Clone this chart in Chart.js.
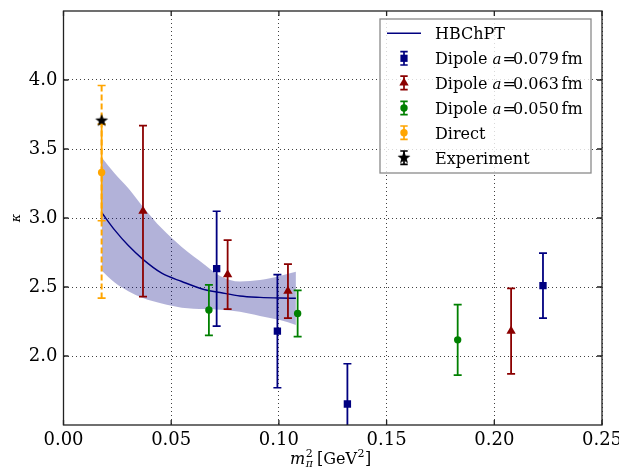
<!DOCTYPE html>
<html>
<head>
<meta charset="utf-8">
<script src="https://cdn.jsdelivr.net/npm/chart.js@4.4.1/dist/chart.umd.min.js"></script>
<style>
html, body { margin: 0; padding: 0; background: #fff; }
#wrap { width: 619px; height: 476px; }
</style>
</head>
<body>
<div id="wrap"><canvas id="kappaChart" width="619" height="476"></canvas></div>
<script>
/* Values */
const xTicks = [0.00, 0.05, 0.10, 0.15, 0.20, 0.25];
const yTicks = [2.0, 2.5, 3.0, 3.5, 4.0];

// HBChPT curve and its band
const fitX  = [0.0177, 0.0239, 0.0301, 0.0369, 0.0456, 0.0549, 0.0657, 0.0727, 0.0819, 0.0912, 0.1005, 0.1079];
const fitY  = [3.04, 2.91, 2.80, 2.70, 2.60, 2.54, 2.48, 2.46, 2.435, 2.425, 2.42, 2.418];
const fitHi = [3.44, 3.32, 3.215, 3.08, 2.925, 2.79, 2.66, 2.58, 2.54, 2.55, 2.58, 2.61];
const fitLo = [2.62, 2.53, 2.47, 2.42, 2.38, 2.35, 2.34, 2.335, 2.32, 2.29, 2.26, 2.225];

// Dipole a = 0.079 fm
const dip079X = [0.0711, 0.0993, 0.1318, 0.2226];
const dip079Y = [2.633, 2.18, 1.652, 2.51];
const dip079Err = [0.416, 0.41, 0.292, 0.236];

// Dipole a = 0.063 fm
const dip063X = [0.0369, 0.0762, 0.1042, 0.2078];
const dip063Y = [3.05, 2.59, 2.47, 2.18];
const dip063Err = [0.62, 0.25, 0.196, 0.31];

// Dipole a = 0.050 fm
const dip050X = [0.0675, 0.1087, 0.183];
const dip050Y = [2.333, 2.308, 2.117];
const dip050Err = [0.183, 0.168, 0.255];

// Direct (statistical + systematic)
const directX = [0.0177];
const directY = [3.33];
const directErr = [0.35];
const directSysLo = [2.42];
const directSysHi = [3.96];

// Experiment
const expX = [0.0177];
const expY = [3.706];

const spacings = ['0.079', '0.063', '0.050'];

const NAVY = '#000080', DARKRED = '#8b0000', GREEN = '#008000', ORANGE = '#ffa500';
const SERIF = "'DejaVu Serif', serif";

const pts = (xs, ys) => xs.map((x, i) => ({x: x, y: ys[i]}));
const symBars = (ys, es) => [{lo: ys.map((v, i) => v - es[i]), hi: ys.map((v, i) => v + es[i]), dash: []}];

function makeStar(r, color) {
    const c = document.createElement('canvas');
    const s = Math.ceil(r * 2) + 2;
    c.width = s; c.height = s;
    const g = c.getContext('2d');
    g.fillStyle = color;
    g.beginPath();
    for (let k = 0; k < 10; k++) {
        const rr = k % 2 ? r * 0.42 : r;
        const a = -Math.PI / 2 + k * Math.PI / 5;
        g.lineTo(s / 2 + rr * Math.cos(a), s / 2 + rr * Math.sin(a));
    }
    g.closePath();
    g.fill();
    return c;
}
const starImg = makeStar(6.8, '#000');

// small marker painter for the legend
function drawMarker(ctx, style, x, y, color) {
    ctx.fillStyle = color;
    ctx.beginPath();
    if (style === 'rect') {
        ctx.rect(x - 3.6, y - 3.6, 7.2, 7.2);
    } else if (style === 'triangle') {
        const r = 5.4;
        ctx.moveTo(x, y - r);
        ctx.lineTo(x + r * 0.866, y + r * 0.5);
        ctx.lineTo(x - r * 0.866, y + r * 0.5);
        ctx.closePath();
    } else if (style === 'circle') {
        ctx.arc(x, y, 3.7, 0, Math.PI * 2);
    } else if (style === 'star') {
        ctx.drawImage(starImg, x - starImg.width / 2, y - starImg.height / 2);
        return;
    }
    ctx.fill();
}

/* error bars, drawn under each dataset's markers */
const errorBars = {
    id: 'errorBars',
    beforeDatasetDraw(chart, args) {
        const ds = chart.data.datasets[args.index];
        if (!ds.bars) return;
        const {ctx, chartArea, scales: {x, y}} = chart;
        ctx.save();
        ctx.beginPath();
        ctx.rect(chartArea.left, chartArea.top, chartArea.width, chartArea.height);
        ctx.clip();
        ctx.strokeStyle = ds.borderColor;
        ds.bars.forEach((b) => {
            ds.data.forEach((p, i) => {
                const px = x.getPixelForValue(p.x);
                const top = y.getPixelForValue(b.hi[i]);
                const bot = y.getPixelForValue(b.lo[i]);
                ctx.lineWidth = b.dash.length ? 2 : 1.8;
                ctx.setLineDash(b.dash);
                ctx.beginPath();
                ctx.moveTo(px, top);
                ctx.lineTo(px, bot);
                ctx.stroke();
                ctx.setLineDash([]);
                ctx.lineWidth = 1.7;
                ctx.beginPath();
                ctx.moveTo(px - 4, top); ctx.lineTo(px + 4, top);
                ctx.moveTo(px - 4, bot); ctx.lineTo(px + 4, bot);
                ctx.stroke();
            });
        });
        ctx.restore();
    }
};

/* frame, inward ticks, axis titles and legend */
const decorations = {
    id: 'decorations',
    afterDraw(chart) {
        const {ctx, chartArea: a, scales: {x, y}} = chart;
        ctx.save();
        ctx.strokeStyle = '#222';
        ctx.lineWidth = 1.3;
        ctx.strokeRect(a.left, a.top, a.width, a.height);
        ctx.beginPath();
        xTicks.forEach((v) => {
            const px = x.getPixelForValue(v);
            ctx.moveTo(px, a.bottom); ctx.lineTo(px, a.bottom - 5);
            ctx.moveTo(px, a.top); ctx.lineTo(px, a.top + 5);
        });
        yTicks.forEach((v) => {
            const py = y.getPixelForValue(v);
            ctx.moveTo(a.left, py); ctx.lineTo(a.left + 5, py);
            ctx.moveTo(a.right, py); ctx.lineTo(a.right - 5, py);
        });
        ctx.stroke();

        // x title: m_pi^2 [GeV^2]
        ctx.fillStyle = '#000';
        ctx.textBaseline = 'alphabetic';
        ctx.textAlign = 'left';
        let cx = 290;
        const base = 464;
        ctx.font = 'italic 16px ' + SERIF;
        ctx.fillText('m', cx, base);
        cx += ctx.measureText('m').width + 0.5;
        ctx.font = '11px ' + SERIF;
        ctx.fillText('2', cx, base - 7);
        ctx.font = 'italic 11px ' + SERIF;
        ctx.fillText('π', cx, base + 3);
        ctx.font = '16px ' + SERIF;
        cx = 317;
        ctx.fillText('[GeV', cx, base);
        cx += ctx.measureText('[GeV').width + 0.5;
        ctx.font = '11px ' + SERIF;
        ctx.fillText('2', cx, base - 7);
        cx += ctx.measureText('2').width + 0.5;
        ctx.font = '16px ' + SERIF;
        ctx.fillText(']', cx, base);

        // y title: kappa
        ctx.save();
        ctx.translate(20, 218);
        ctx.rotate(-Math.PI / 2);
        ctx.font = 'italic 13px ' + SERIF;
        ctx.textAlign = 'center';
        ctx.fillText('κ', 0, 0);
        ctx.restore();

        // legend box
        const L = 380, T = 19, R = 591, B = 173;
        ctx.fillStyle = 'rgba(255,255,255,0.8)';
        ctx.fillRect(L, T, R - L, B - T);
        ctx.strokeStyle = '#8a8a8a';
        ctx.lineWidth = 1.3;
        ctx.strokeRect(L, T, R - L, B - T);

        const rowY = [33.3, 58.3, 82.9, 108.0, 132.7, 157.7];
        const hx = 404, tx = 435;
        // HBChPT line
        ctx.strokeStyle = NAVY;
        ctx.lineWidth = 1.4;
        ctx.beginPath();
        ctx.moveTo(387, rowY[0]); ctx.lineTo(421, rowY[0]);
        ctx.stroke();

        const handles = [
            ['rect', NAVY], ['triangle', DARKRED], ['circle', GREEN], ['circle', ORANGE], ['star', '#000']
        ];
        handles.forEach((h, i) => {
            const ry = rowY[i + 1];
            ctx.strokeStyle = h[1];
            ctx.lineWidth = 1.7;
            ctx.beginPath();
            ctx.moveTo(hx, ry - 6.7); ctx.lineTo(hx, ry + 6.7);
            ctx.moveTo(hx - 3.7, ry - 6.7); ctx.lineTo(hx + 3.7, ry - 6.7);
            ctx.moveTo(hx - 3.7, ry + 6.7); ctx.lineTo(hx + 3.7, ry + 6.7);
            ctx.stroke();
            drawMarker(ctx, h[0], hx, ry, h[1]);
        });

        ctx.fillStyle = '#000';
        ctx.font = '16px ' + SERIF;
        ctx.fillText('HBChPT', tx, rowY[0] + 6);
        spacings.forEach((s, i) => {
            const by = rowY[i + 1] + 6;
            ctx.font = '16px ' + SERIF;
            ctx.fillText('Dipole', tx, by);
            ctx.font = 'italic 15px ' + SERIF;
            ctx.fillText('a', 492.5, by);
            ctx.font = '16px ' + SERIF;
            ctx.fillText('=', 502.5, by);
            ctx.fillText(s, 513, by);
            ctx.fillText('fm', 561.5, by);
        });
        ctx.font = '16px ' + SERIF;
        ctx.fillText('Direct', tx, rowY[4] + 6);
        ctx.fillText('Experiment', tx, rowY[5] + 6);
        ctx.restore();
    }
};

const ctx = document.getElementById('kappaChart');
new Chart(ctx, {
    type: 'scatter',
    data: {
        datasets: [
            {
                label: 'band upper', data: pts(fitX, fitHi), showLine: true, order: 7,
                borderWidth: 0, pointRadius: 0, fill: '+1',
                backgroundColor: 'rgba(0,0,128,0.3)', cubicInterpolationMode: 'monotone'
            },
            {
                label: 'band lower', data: pts(fitX, fitLo), showLine: true, order: 6,
                borderWidth: 0, pointRadius: 0, fill: false,
                backgroundColor: 'rgba(0,0,128,0.3)', cubicInterpolationMode: 'monotone'
            },
            {
                label: 'HBChPT', data: pts(fitX, fitY), showLine: true, order: 5,
                borderColor: NAVY, borderWidth: 1.4, pointRadius: 0, fill: false,
                cubicInterpolationMode: 'monotone'
            },
            {
                label: 'Dipole a=0.079 fm', data: pts(dip079X, dip079Y), order: 4,
                bars: symBars(dip079Y, dip079Err),
                pointStyle: 'rect', pointRadius: 5.2, borderColor: NAVY, backgroundColor: NAVY, borderWidth: 0
            },
            {
                label: 'Dipole a=0.063 fm', data: pts(dip063X, dip063Y), order: 3,
                bars: symBars(dip063Y, dip063Err),
                pointStyle: 'triangle', pointRadius: 5.4, borderColor: DARKRED, backgroundColor: DARKRED, borderWidth: 0
            },
            {
                label: 'Dipole a=0.050 fm', data: pts(dip050X, dip050Y), order: 2,
                bars: symBars(dip050Y, dip050Err),
                pointStyle: 'circle', pointRadius: 3.7, borderColor: GREEN, backgroundColor: GREEN, borderWidth: 0
            },
            {
                label: 'Direct', data: pts(directX, directY), order: 1,
                bars: [{lo: directSysLo, hi: directSysHi, dash: [6, 3]}].concat(symBars(directY, directErr)),
                pointStyle: 'circle', pointRadius: 3.7, borderColor: ORANGE, backgroundColor: ORANGE, borderWidth: 0
            },
            {
                label: 'Experiment', data: pts(expX, expY), order: 0,
                pointStyle: starImg, pointRadius: 6.8, borderColor: '#000', backgroundColor: '#000'
            }
        ]
    },
    options: {
        responsive: false,
        maintainAspectRatio: false,
        animation: false,
        layout: { padding: { left: 0, right: 17, top: 11, bottom: 0 } },
        scales: {
            x: {
                type: 'linear', min: 0, max: 0.25,
                afterBuildTicks: (s) => { s.ticks = xTicks.map((v) => ({value: v})); },
                afterFit: (s) => { s.height = 51; s.paddingLeft = 0; s.paddingRight = 0; },
                grid: { color: 'rgba(0,0,0,0.75)', lineWidth: 1, drawTicks: false },
                border: { display: false, dash: [1, 3] },
                ticks: {
                    padding: 5, color: '#000', maxRotation: 0, autoSkip: false,
                    font: { family: SERIF, size: 18 },
                    callback: (v) => Number(v).toFixed(2)
                }
            },
            y: {
                type: 'linear', min: 1.5, max: 4.5,
                afterBuildTicks: (s) => { s.ticks = yTicks.map((v) => ({value: v})); },
                afterFit: (s) => { s.width = 63.5; s.paddingTop = 0; s.paddingBottom = 0; },
                grid: { color: 'rgba(0,0,0,0.75)', lineWidth: 1, drawTicks: false },
                border: { display: false, dash: [1, 3] },
                ticks: {
                    padding: 6, color: '#000', autoSkip: false,
                    font: { family: SERIF, size: 18 },
                    callback: (v) => Number(v).toFixed(1)
                }
            }
        },
        plugins: {
            legend: { display: false },
            tooltip: { enabled: false }
        }
    },
    plugins: [errorBars, decorations]
});
</script>
</body>
</html>
